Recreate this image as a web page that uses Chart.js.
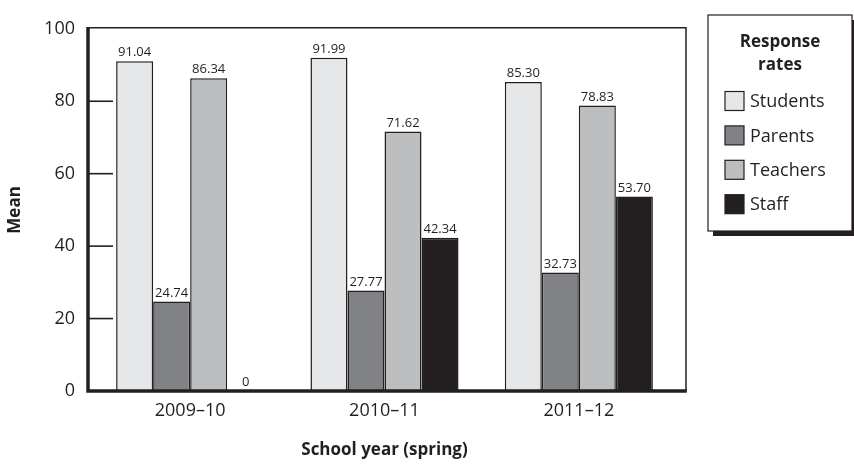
<!DOCTYPE html>
<html>
<head>
<meta charset="utf-8">
<script src="https://cdn.jsdelivr.net/npm/chart.js@4.4.0/dist/chart.umd.min.js"></script>
<style>
  html, body { margin: 0; padding: 0; background: #fff; }
  #wrap { width: 854px; height: 464px; }
</style>
</head>
<body>
<div id="wrap"><canvas id="chart" width="854" height="464"></canvas></div>
<script>
// school years and response rate series
const years = ['2009–10', '2010–11', '2011–12'];
const groups = ['Students', 'Parents', 'Teachers', 'Staff'];
const students = [91.04, 91.99, 85.30];
const parents = [24.74, 27.77, 32.73];
const teachers = [86.34, 71.62, 78.83];
const staff = [0, 42.34, 53.70];
const yTicks = [0, 20, 40, 60, 80, 100];

const ink = '#231f20';
const fills = ['#e6e7e8', '#808285', '#bcbec0', '#231f20'];
const fontFam = '"Open Sans", "Noto Sans", sans-serif';

const series = [students, parents, teachers, staff];

// box around the plot, inner tick marks and value labels
const framePlugin = {
  id: 'frame',
  afterDatasetsDraw(chart) {
    const ctx = chart.ctx;
    const a = chart.chartArea;
    const y = chart.scales.y;
    const left = a.left - 5, right = a.right + 10;
    const top = y.getPixelForValue(100) - 1, bottom = y.getPixelForValue(0);
    ctx.save();
    ctx.strokeStyle = ink;
    ctx.lineWidth = 1.5;
    ctx.beginPath();
    ctx.moveTo(left, top);
    ctx.lineTo(right, top);
    ctx.lineTo(right, bottom);
    ctx.stroke();
    // inner tick marks
    ctx.lineWidth = 1.6;
    yTicks.slice(1, -1).forEach(v => {
      const py = y.getPixelForValue(v);
      ctx.beginPath();
      ctx.moveTo(left, py);
      ctx.lineTo(left + 25, py);
      ctx.stroke();
    });
    // heavy axes
    ctx.lineWidth = 3.5;
    ctx.beginPath();
    ctx.moveTo(left, top - 0.75);
    ctx.lineTo(left, bottom);
    ctx.lineTo(right + 0.75, bottom);
    ctx.stroke();

    // value labels
    ctx.fillStyle = ink;
    ctx.font = '13px ' + fontFam;
    ctx.textAlign = 'center';
    ctx.textBaseline = 'bottom';
    chart.data.datasets.forEach((ds, di) => {
      chart.getDatasetMeta(di).data.forEach((bar, i) => {
        const v = ds.data[i];
        const txt = v === 0 ? '0' : v.toFixed(2);
        ctx.fillText(txt, bar.x, bar.y - 2);
      });
    });
    ctx.restore();
  }
};

// legend panel with drop shadow
const legendPlugin = {
  id: 'boxLegend',
  afterDraw(chart) {
    const ctx = chart.ctx;
    const bx = 708, by = 15, bw = 144, bh = 216;
    ctx.save();
    ctx.fillStyle = ink;
    ctx.fillRect(bx + 5, by + 5, bw, bh);
    ctx.fillStyle = '#fff';
    ctx.fillRect(bx, by, bw, bh);
    ctx.strokeStyle = ink;
    ctx.lineWidth = 1.2;
    ctx.strokeRect(bx, by, bw, bh);

    ctx.fillStyle = ink;
    ctx.textAlign = 'center';
    ctx.textBaseline = 'middle';
    ctx.font = 'bold 17px ' + fontFam;
    ctx.fillText('Response', 780, 42);
    ctx.fillText('rates', 780, 65);

    ctx.textAlign = 'left';
    ctx.font = '18px ' + fontFam;
    chart.data.datasets.forEach((ds, i) => {
      const cy = 101 + i * 34.4;
      ctx.fillStyle = ds.backgroundColor;
      ctx.fillRect(725, cy - 9.5, 19, 19);
      ctx.strokeStyle = ink;
      ctx.lineWidth = 1.2;
      ctx.strokeRect(725, cy - 9.5, 19, 19);
      ctx.fillStyle = ink;
      ctx.fillText(ds.label, 750, cy + 1);
    });
    ctx.restore();
  }
};

new Chart(document.getElementById('chart'), {
  type: 'bar',
  data: {
    labels: years,
    datasets: groups.map((g, i) => ({
      label: g,
      data: series[i],
      backgroundColor: fills[i],
      borderColor: ink,
      borderWidth: 1.5,
      borderSkipped: 'bottom',
      barPercentage: 1,
      categoryPercentage: 0.762
    }))
  },
  options: {
    responsive: false,
    devicePixelRatio: 1,
    animation: false,
    layout: { padding: { top: 16, right: 178, left: 0, bottom: 0 } },
    plugins: {
      legend: { display: false },
      tooltip: { enabled: false }
    },
    scales: {
      x: {
        grid: { display: false, drawTicks: false },
        border: { display: false },
        ticks: { color: ink, font: { family: fontFam, size: 18 }, padding: 9 },
        title: {
          display: true,
          text: 'School year (spring)',
          color: ink,
          font: { family: fontFam, size: 17, weight: 'bold' },
          padding: { top: 0, bottom: 4 }
        },
        afterFit(s) { s.height = 73; }
      },
      y: {
        min: 0,
        max: 100,
        grid: { display: false, drawTicks: false },
        border: { display: false },
        afterBuildTicks(s) { s.ticks = yTicks.map(v => ({ value: v })); },
        ticks: { color: ink, font: { family: fontFam, size: 18 }, padding: 18 },
        title: {
          display: true,
          text: 'Mean',
          color: ink,
          font: { family: fontFam, size: 17, weight: 'bold' },
          padding: { top: 5, bottom: 0 }
        },
        afterFit(s) { s.width = 93; }
      }
    }
  },
  plugins: [framePlugin, legendPlugin]
});
</script>
</body>
</html>
